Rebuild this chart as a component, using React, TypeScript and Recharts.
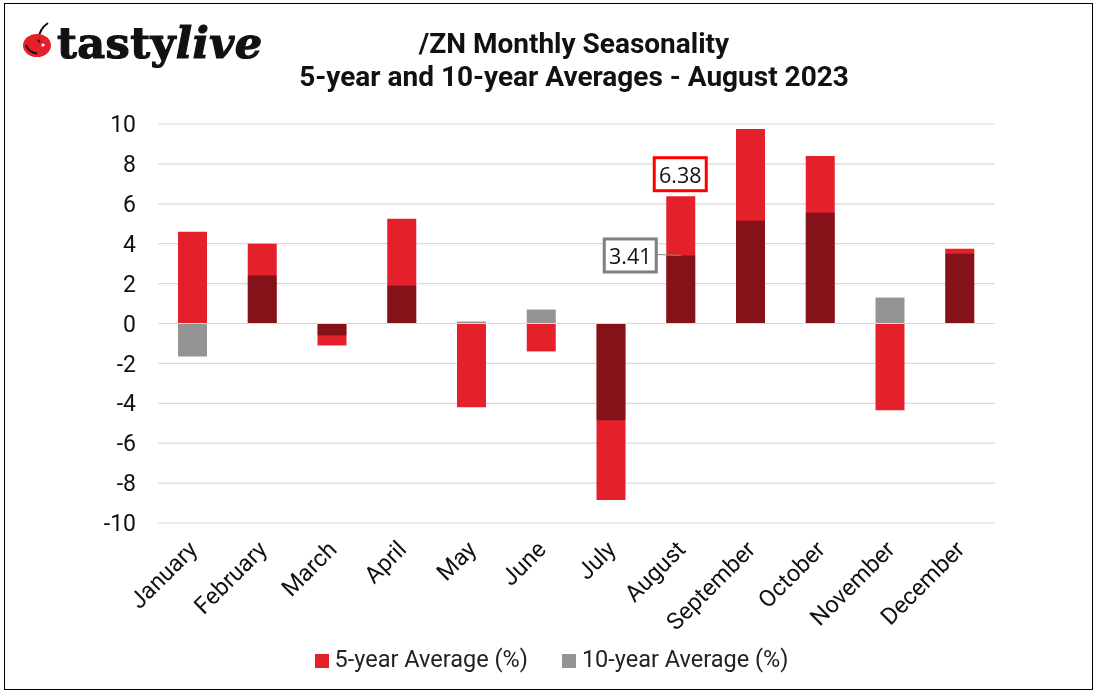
import {
  Bar,
  BarChart,
  CartesianGrid,
  LabelList,
  Legend,
  ReferenceLine,
  XAxis,
  YAxis,
} from "recharts";

const MONTHS = ["January", "February", "March", "April", "May", "June", "July", "August", "September", "October", "November", "December"];
const FIVE_YEAR = [4.6, 4.0, -1.1, 5.25, -4.2, -1.4, -8.85, 6.38, 9.75, 8.4, -4.35, 3.75];
const TEN_YEAR = [-1.65, 2.4, -0.6, 1.9, 0.1, 0.7, -4.85, 3.41, 5.15, 5.55, 1.3, 3.5];
const Y_TICKS = [-10, -8, -6, -4, -2, 0, 2, 4, 6, 8, 10];
const CALLOUT_MONTH = "August";

const data = MONTHS.map((month, i) => ({
  month,
  fiveYear: FIVE_YEAR[i],
  tenYear: TEN_YEAR[i],
}));

const RED = "#e4202a";
const GREY = "#949494";
const FONT = "Roboto, sans-serif";
const LABEL_FONT = "'Open Sans', sans-serif";

function FiveYearCallout(props: any) {
  const { x, y, width, index, value } = props;
  if (MONTHS[index] !== CALLOUT_MONTH) return null;
  const cx = x + width / 2;
  return (
    <g>
      <rect x={cx - 26.5} y={y - 38.5} width={52} height={33} fill="#fff" stroke="#ff0000" strokeWidth={3} />
      <text x={cx - 0.5} y={y - 22} textAnchor="middle" dominantBaseline="central" fontFamily={LABEL_FONT} fontSize={21.5} fill="#111">
        {value.toFixed(2)}
      </text>
    </g>
  );
}

function TenYearCallout(props: any) {
  const { x, y, width, index, value } = props;
  if (MONTHS[index] !== CALLOUT_MONTH) return null;
  const cx = x + width / 2;
  return (
    <g>
      <line x1={cx - 24} y1={y - 1} x2={cx} y2={y} stroke="#8c8c8c" strokeWidth={1} />
      <rect x={cx - 76.5} y={y - 16.5} width={52} height={33} fill="#fff" stroke="#7f7f7f" strokeWidth={3} />
      <text x={cx - 50.5} y={y} textAnchor="middle" dominantBaseline="central" fontFamily={LABEL_FONT} fontSize={21.5} fill="#111">
        {value.toFixed(2)}
      </text>
    </g>
  );
}

function Logo() {
  return (
    <div style={{ position: "absolute", left: 22, top: 20, width: 250, height: 50 }}>
      <svg width={32} height={40} style={{ position: "absolute", left: 0, top: 0 }}>
        <path d="M26 3 C20 7 17 13 16 20" fill="none" stroke="#111" strokeWidth={2} />
        <ellipse cx={15} cy={25.5} rx={14} ry={11.5} fill={RED} />
        <path d="M16 20 L18 22" fill="none" stroke="#111" strokeWidth={2} />
        <path d="M4 25 C6 30 10 33 15 33.5" fill="none" stroke="#111" strokeWidth={2} />
        <circle cx={21} cy={25} r={1.6} fill="#fff" />
      </svg>
      <div
        style={{
          position: "absolute",
          left: 35,
          top: -3,
          fontFamily: "'DejaVu Serif', serif",
          fontWeight: 900,
          fontSize: 43,
          lineHeight: "52px",
          letterSpacing: 0.4,
          WebkitTextStroke: "1.2px #111",
          color: "#111",
          whiteSpace: "nowrap",
        }}
      >
        tasty<span style={{ fontStyle: "italic" }}>live</span>
      </div>
    </div>
  );
}

export default function App() {
  return (
    <div style={{ position: "fixed", left: 0, top: 0, width: 1097, height: 693, background: "#fff", overflow: "hidden" }}>
      <BarChart
        width={1097}
        height={693}
        data={data}
        barGap={-29}
        barSize={29}
        margin={{ top: 124, right: 102, bottom: 0, left: 100 }}
      >
        <CartesianGrid horizontal vertical={false} stroke="#d9d9d9" strokeWidth={1.2} />
        <XAxis
          dataKey="month"
          axisLine={false}
          tickLine={false}
          tickSize={0}
          tickMargin={16}
          interval={0}
          angle={-45}
          textAnchor="end"
          height={142}
          tick={{ fontFamily: FONT, fontSize: 23.5, fill: "#111", dx: -6 }}
        />
        <YAxis
          width={58}
          domain={[-10, 10]}
          ticks={Y_TICKS}
          interval={0}
          axisLine={false}
          tickLine={false}
          tickSize={0}
          tickMargin={22}
          tick={{ fontFamily: FONT, fontSize: 23, fill: "#111" }}
        />
        <ReferenceLine y={0} stroke="#d9d9d9" strokeWidth={1.2} />
        <Legend
          verticalAlign="bottom"
          align="center"
          iconType="square"
          iconSize={14}
          itemSorter={null}
          wrapperStyle={{ fontFamily: FONT, fontSize: 23.5, bottom: 20, left: 20, width: 1097 }}
          formatter={(value: string) => <span style={{ color: "#222", margin: "0 24px 0 2px" }}>{value}</span>}
        />
        <Bar dataKey="fiveYear" name="5-year Average (%)" fill={RED} isAnimationActive={false}>
          <LabelList dataKey="fiveYear" content={FiveYearCallout} />
        </Bar>
        <Bar dataKey="tenYear" name="10-year Average (%)" fill={GREY} style={{ mixBlendMode: "multiply" }} isAnimationActive={false}>
          <LabelList dataKey="tenYear" content={TenYearCallout} />
        </Bar>
      </BarChart>
      <div style={{ position: "absolute", left: 574, top: 27, transform: "translateX(-50%)", textAlign: "center", fontFamily: FONT, fontWeight: 700, fontSize: 28, lineHeight: "33px", color: "#111", whiteSpace: "nowrap" }}>
        /ZN Monthly Seasonality
        <br />
        5-year and 10-year Averages - August 2023
      </div>
      <Logo />
      <div style={{ position: "absolute", left: 4, top: 3, width: 1087, height: 685, border: "1.5px solid #000", pointerEvents: "none" }} />
    </div>
  );
}
